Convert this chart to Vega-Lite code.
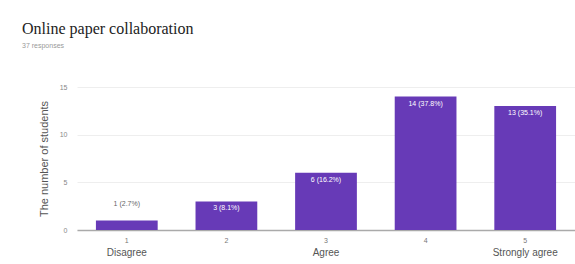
{
  "$schema": "https://vega.github.io/schema/vega-lite/v6.json",
  "autosize": {"type": "none"},
  "width": 498,
  "height": 143,
  "padding": {"left": 77, "top": 87, "right": 0, "bottom": 34},
  "background": "white",
  "title": {
    "text": "Online paper collaboration",
    "subtitle": "37 responses",
    "anchor": "start",
    "frame": "group",
    "dx": -55,
    "offset": 34,
    "font": "Liberation Serif",
    "fontSize": 16,
    "fontWeight": "normal",
    "color": "#222222",
    "subtitleFont": "Liberation Sans",
    "subtitleFontSize": 7,
    "subtitleColor": "#999999",
    "subtitlePadding": 5
  },
  "data": {
    "values": [
      {"k": "1", "name": "Disagree", "n": 1, "label": "1 (2.7%)"},
      {"k": "2", "name": "", "n": 3, "label": "3 (8.1%)"},
      {"k": "3", "name": "Agree", "n": 6, "label": "6 (16.2%)"},
      {"k": "4", "name": "", "n": 14, "label": "14 (37.8%)"},
      {"k": "5", "name": "Strongly agree", "n": 13, "label": "13 (35.1%)"}
    ]
  },
  "layer": [
    {
      "mark": {"type": "bar", "color": "#673ab7"},
      "encoding": {
        "x": {
          "field": "k", "type": "nominal", "sort": null,
          "scale": {"paddingInner": 0.38, "paddingOuter": 0.19},
          "axis": {
            "title": null, "labelAngle": 0, "labelFont": "Liberation Sans",
            "labelFontSize": 7, "labelColor": "#777777", "ticks": false,
            "labelPadding": 6, "domainColor": "#aaaaaa", "domainWidth": 1.5
          }
        },
        "y": {
          "field": "n", "type": "quantitative",
          "scale": {"domain": [0, 15], "nice": false},
          "axis": {
            "values": [0, 5, 10, 15], "title": "The number of students",
            "titleFont": "Liberation Sans", "titleFontSize": 11, "titleFontWeight": "normal",
            "titleColor": "#555555", "titlePadding": 10,
            "labelFont": "Liberation Sans", "labelFontSize": 7, "labelColor": "#888888",
            "labelPadding": 10, "ticks": false, "domain": false,
            "gridColor": "#eeeeee"
          }
        }
      }
    },
    {
      "transform": [{"filter": "datum.n >= 2"}],
      "mark": {"type": "text", "color": "white", "baseline": "middle", "dy": 7, "font": "Liberation Sans", "fontSize": 7},
      "encoding": {
        "x": {"field": "k", "type": "nominal", "sort": null},
        "y": {"field": "n", "type": "quantitative"},
        "text": {"field": "label"}
      }
    },
    {
      "transform": [{"filter": "datum.n < 2"}],
      "mark": {"type": "text", "color": "#666666", "baseline": "middle", "dy": -16, "font": "Liberation Sans", "fontSize": 7},
      "encoding": {
        "x": {"field": "k", "type": "nominal", "sort": null},
        "y": {"field": "n", "type": "quantitative"},
        "text": {"field": "label"}
      }
    },
    {
      "mark": {"type": "text", "color": "#555555", "baseline": "middle", "font": "Liberation Sans", "fontSize": 10, "clip": false},
      "encoding": {
        "x": {"field": "k", "type": "nominal", "sort": null},
        "y": {"datum": -2.4, "type": "quantitative"},
        "text": {"field": "name"}
      }
    }
  ],
  "config": {"view": {"stroke": null}}
}
